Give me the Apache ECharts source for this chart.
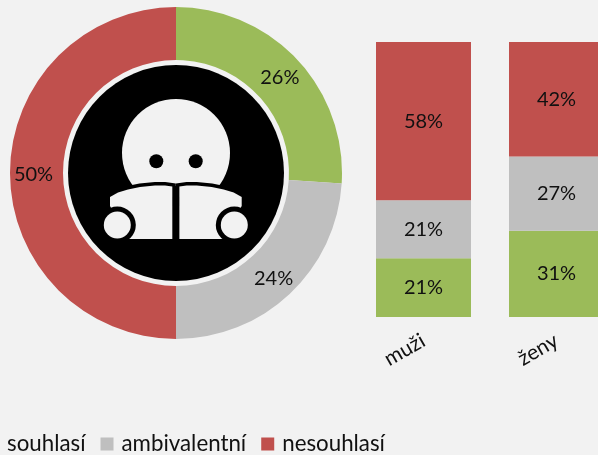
<!DOCTYPE html>
<html>
<head>
<meta charset="utf-8">
<style>
  html, body { margin: 0; padding: 0; background: #f2f2f2; overflow: hidden; }
  #chart { width: 598px; height: 455px; }
</style>
<script src="https://cdn.jsdelivr.net/npm/echarts@6/dist/echarts.min.js"></script>
</head>
<body>
<div id="chart"></div>
<script>
const seriesNames = ['souhlasí', 'ambivalentní', 'nesouhlasí']
const colors = ['#9bbb59', '#bfbfbf', '#c0504d']
const totalValues = [26, 24, 50]
const genders = ['muži', 'ženy']
const agreeValues = [21.4, 31.4]
const ambivalentValues = [21.1, 27]
const disagreeValues = [57.5, 41.6]

const font = 'Lato'
const bg = '#f2f2f2'
const leftPage = [[110, 197], [118, 192.5], [128, 189.5], [140, 187], [155, 185.5], [165, 185.5], [172.3, 186.5], [172.3, 239], [128, 239], [110, 206]]
const rightPage = leftPage.map(p => [351.7 - p[0], p[1]])

function labelStyle() {
  return { show: true, color: '#111', fontFamily: font, fontSize: 20, formatter: p => Math.round(p.value) + '%' }
}

const barValues = [agreeValues, ambivalentValues, disagreeValues]

const chart = echarts.init(document.getElementById('chart'))
chart.setOption({
  animation: false,
  backgroundColor: bg,
  legend: {
    data: seriesNames,
    left: -14,
    top: 433,
    padding: 0,
    itemWidth: 13,
    itemHeight: 13,
    itemGap: 15,
    icon: 'rect',
    textStyle: { fontFamily: font, fontSize: 22.3, color: '#111', padding: [0, 0, 0, 3] }
  },
  grid: { left: 357, top: 42, width: 266, height: 275, outerBoundsMode: 'none' },
  xAxis: {
    type: 'category',
    data: genders,
    axisLine: { show: false },
    axisTick: { show: false },
    axisLabel: { rotate: 30, margin: 22, fontFamily: font, fontSize: 21, color: '#111' }
  },
  yAxis: { type: 'value', min: 0, max: 100, show: false },
  series: [
    {
      type: 'pie',
      center: [176, 173],
      radius: [113, 166],
      startAngle: 90,
      clockwise: true,
      silent: true,
      label: { position: 'inside', ...labelStyle() },
      labelLayout: { dy: 2 },
      labelLine: { show: false },
      data: seriesNames.map((name, i) => ({ name, value: totalValues[i], itemStyle: { color: colors[i] } }))
    },
    ...seriesNames.map((name, i) => ({
      type: 'bar',
      name,
      stack: 'gender',
      barWidth: 95,
      itemStyle: { color: colors[i] },
      label: { position: 'inside', ...labelStyle() },
      data: barValues[i]
    }))
  ],
  // reading figure in the hole of the doughnut
  graphic: [
    { type: 'circle', z: 10, shape: { cx: 176, cy: 173, r: 108 }, style: { fill: '#000' } },
    { type: 'circle', z: 11, shape: { cx: 176, cy: 153, r: 54 }, style: { fill: bg } },
    { type: 'circle', z: 12, shape: { cx: 156.3, cy: 161.3, r: 7 }, style: { fill: '#000' } },
    { type: 'circle', z: 12, shape: { cx: 195.7, cy: 161.3, r: 7 }, style: { fill: '#000' } },
    ...[leftPage, rightPage].map(points => ({ type: 'polygon', z: 13, shape: { points }, style: { fill: '#000', stroke: '#000', lineWidth: 7 } })),
    { type: 'rect', z: 13, shape: { x: 120, y: 186, width: 112, height: 56 }, style: { fill: '#000' } },
    ...[leftPage, rightPage].map(points => ({ type: 'polygon', z: 14, shape: { points }, style: { fill: bg } })),
    { type: 'circle', z: 15, shape: { cx: 117.3, cy: 225, r: 18.5 }, style: { fill: '#000' } },
    { type: 'circle', z: 15, shape: { cx: 234.3, cy: 225, r: 18.5 }, style: { fill: '#000' } },
    { type: 'circle', z: 16, shape: { cx: 117.3, cy: 225, r: 13.5 }, style: { fill: bg } },
    { type: 'circle', z: 16, shape: { cx: 234.3, cy: 225, r: 13.5 }, style: { fill: bg } }
  ]
})
</script>
</body>
</html>
